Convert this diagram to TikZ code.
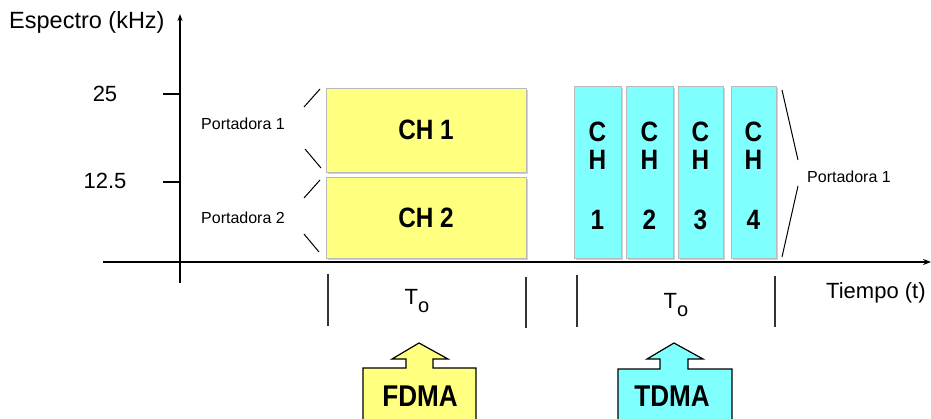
\documentclass[tikz,border=0pt]{standalone}
\usepackage{fontspec}
\setmainfont{Liberation Sans}
\newfontfamily\condfont{Liberation Sans}[FakeStretch=0.87]
\usetikzlibrary{arrows.meta,shadows}
\definecolor{yfill}{HTML}{FFFF80}
\definecolor{cfill}{HTML}{80FFFF}
\begin{document}
\begin{tikzpicture}[x=1pt,y=-1pt,
  lbl/.style={inner sep=0pt, font=\fontsize{22}{24}\selectfont},
  biglbl/.style={inner sep=0pt, font=\fontsize{23.5}{25}\selectfont},
  small/.style={inner sep=0pt, font=\fontsize{16}{18}\selectfont},
  bigbold/.style={inner sep=0pt, font=\condfont\bfseries\fontsize{30}{32}\selectfont},
  chbold/.style={inner sep=0pt, font=\condfont\bfseries\fontsize{28}{29}\selectfont},
  boxshadow/.style={drop shadow={shadow xshift=2pt, shadow yshift=-2pt, fill=gray!45, opacity=0.8}},
  ybox/.style={draw=gray!55, line width=0.6pt, fill=yfill, boxshadow, inner sep=0pt},
  cbox/.style={draw=gray!55, line width=0.6pt, fill=cfill, boxshadow, inner sep=0pt},
  tickline/.style={line width=1.4pt},
  slash/.style={line width=1pt},
  bar/.style={line width=1.1pt, draw=black!80},
  marker/.style={draw=black, line width=1.2pt}
]
\useasboundingbox (0,0) rectangle (931,419);
\clip (0,0) rectangle (931,419);
\fill[white] (0,0) rectangle (931,419);

% axes
\coordinate (yb) at (180,283);
\coordinate (yt) at (180,14);
\coordinate (xl) at (103,262);
\coordinate (xr) at (931,262);
\draw[line width=2pt, -{Stealth[length=7pt,width=5pt]}] (yb) -- (yt);
\draw[line width=2.8pt, -{Stealth[length=8pt,width=6pt]}] (xl) -- (xr);

% axis labels
\node[biglbl, anchor=west] (ylab) at (9,22) {Espectro (kHz)};
\node[lbl, anchor=west] (xlab) at (826,293) {Tiempo (t)};

% ticks
\coordinate (t25a) at (163,94);  \coordinate (t25b) at (180,94);
\coordinate (t12a) at (163,182); \coordinate (t12b) at (180,182);
\draw[tickline] (t25a) -- (t25b);
\draw[tickline] (t12a) -- (t12b);
\node[lbl] (l25) at (105,94) {25};
\node[lbl] (l125) at (105,181) {12.5};

% left carrier labels
\node[small] (p1) at (243,124) {Portadora 1};
\node[small] (p2) at (243,218) {Portadora 2};

% slashes
\coordinate (s1a) at (304,107); \coordinate (s1b) at (320,89);
\coordinate (s2a) at (305,149); \coordinate (s2b) at (321,168);
\coordinate (s3a) at (304,198); \coordinate (s3b) at (320,180);
\coordinate (s4a) at (304,234); \coordinate (s4b) at (319,252);
\draw[slash] (s1a) -- (s1b);
\draw[slash] (s2a) -- (s2b);
\draw[slash] (s3a) -- (s3b);
\draw[slash] (s4a) -- (s4b);

% FDMA boxes
\node[ybox, minimum width=200pt, minimum height=84pt] (ch1) at (426,130) {};
\node[ybox, minimum width=200pt, minimum height=81pt] (ch2) at (426,217.5) {};
\node[chbold] (ch1t) at (ch1.center) {CH 1};
\node[chbold] (ch2t) at (ch2.center) {CH 2};

% TDMA boxes
\node[cbox, minimum width=47pt, minimum height=172pt] (k1) at (597.5,172) {};
\node[cbox, minimum width=47pt, minimum height=172pt] (k2) at (649.5,172) {};
\node[cbox, minimum width=45pt, minimum height=172pt] (k3) at (700.5,172) {};
\node[cbox, minimum width=45pt, minimum height=172pt] (k4) at (753.5,172) {};
\foreach \k/\d in {k1/1,k2/2,k3/3,k4/4}{
  \node[chbold] (\k c) at ([yshift=40pt]\k.center) {C};
  \node[chbold] (\k h) at ([yshift=12pt]\k.center) {H};
  \node[chbold] (\k n) at ([yshift=-48pt]\k.center) {\d};
}

% right bracket
\coordinate (r1a) at (782,90);  \coordinate (r1b) at (798,160);
\coordinate (r2a) at (798,186); \coordinate (r2b) at (782,257);
\draw[slash] (r1a) -- (r1b);
\draw[slash] (r2a) -- (r2b);
\node[small] (p1r) at (849,177) {Portadora 1};

% period bars
\coordinate (b1a) at (328,274); \coordinate (b1b) at (328,326);
\coordinate (b2a) at (526,277); \coordinate (b2b) at (526,328);
\coordinate (b3a) at (577,275); \coordinate (b3b) at (577,327);
\coordinate (b4a) at (775,276); \coordinate (b4b) at (775,327);
\draw[bar] (b1a) -- (b1b);
\draw[bar] (b2a) -- (b2b);
\draw[bar] (b3a) -- (b3b);
\draw[bar] (b4a) -- (b4b);
\node[lbl, anchor=center] (to1) at (417,301) {T\raisebox{-0.38em}{\fontsize{20}{20}\selectfont o}};
\node[lbl, anchor=center] (to2) at (676,305) {T\raisebox{-0.38em}{\fontsize{20}{20}\selectfont o}};

% FDMA marker
\draw[marker, fill=yfill] (419,343) -- (448,359) -- (433,359) -- (433,368) -- (476,368) -- (476,425)
  -- (363,425) -- (363,368) -- (406,368) -- (406,359) -- (392,359) -- cycle;
\node[bigbold] (fdma) at (420,396) {FDMA};

% TDMA marker
\draw[marker, fill=cfill] (674,343) -- (703,359) -- (688,359) -- (688,369) -- (732,369) -- (732,425)
  -- (618,425) -- (618,369) -- (660,369) -- (660,359) -- (647,359) -- cycle;
\node[bigbold] (tdma) at (672,396) {TDMA};
\end{tikzpicture}
\end{document}
